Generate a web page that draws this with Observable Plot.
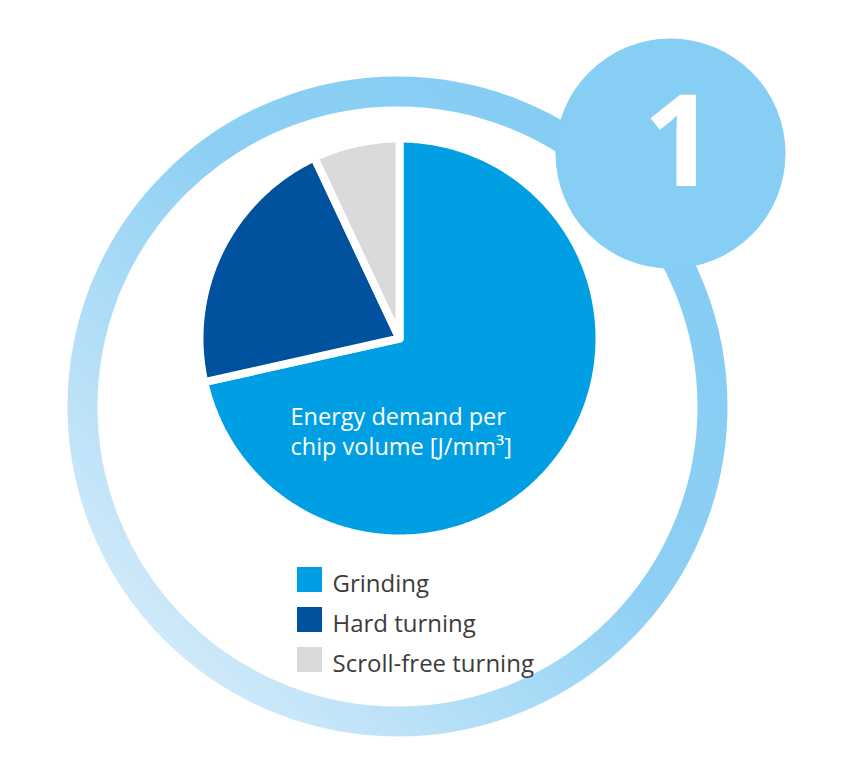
<!DOCTYPE html>
<html><head><meta charset="utf-8">
<script src="https://cdn.jsdelivr.net/npm/d3@7"></script>
<script src="https://cdn.jsdelivr.net/npm/@observablehq/plot@0.6"></script>
<style>html,body{margin:0;padding:0;background:#fff}</style>
</head><body><div id="chart"></div>
<script>
// ---- data ----
const categories = ["Grinding", "Hard turning", "Scroll-free turning"];
const values = [71.5, 21.5, 7];
const colors = ["#009fe3", "#00519e", "#dadada"];
const centerLabel = ["Energy demand per", "chip volume [J/mm³]"];
const badgeLabel = "1";

// ---- layout ----
const W = 854, H = 771;
const pie = {cx: 399, cy: 338, r: 200, gap: 8};
const ring = {cx: 397, cy: 406, r: 315, w: 30};
const badge = {cx: 670, cy: 153, r: 115};
const legend = {x: 297, y: 567, size: 25, step: 40, textX: 332};
const font = "'Open Sans', sans-serif";

const arcs = d3.pie().sort(null).value(d => d.value)(
  categories.map((c, i) => ({category: c, value: values[i]}))
);
const wedgePts = arcs.flatMap(a => {
  const n = Math.max(2, Math.ceil((a.endAngle - a.startAngle) / 0.01));
  const pts = [{category: a.data.category, x: pie.cx, y: pie.cy}];
  for (let k = 0; k <= n; k++) {
    const t = a.startAngle + (a.endAngle - a.startAngle) * k / n;
    pts.push({category: a.data.category, x: pie.cx + pie.r * Math.sin(t), y: pie.cy - pie.r * Math.cos(t)});
  }
  return pts;
});
const legendRows = categories.map((c, i) => ({category: c, i}));

const defs = () => {
  const g = d3.create("svg:g");
  const lg = g.append("defs").append("linearGradient")
    .attr("id", "ringGrad").attr("x1", "1").attr("y1", "0").attr("x2", "0").attr("y2", "1");
  lg.append("stop").attr("offset", "0").attr("stop-color", "#82cbf3");
  lg.append("stop").attr("offset", "0.45").attr("stop-color", "#8ed0f4");
  lg.append("stop").attr("offset", "1").attr("stop-color", "#e3f1fb");
  return g.node();
};

const chart = Plot.plot({
  width: W, height: H,
  margin: 0,
  x: {domain: [0, W], range: [0, W], axis: null},
  y: {domain: [0, H], range: [0, H], axis: null},
  color: {domain: categories, range: colors},
  style: {background: "#fff", fontFamily: font},
  marks: [
    defs,
    Plot.dot([ring], {x: "cx", y: "cy", r: ring.r, fill: "none", stroke: "url(#ringGrad)", strokeWidth: ring.w}),
    Plot.dot([badge], {x: "cx", y: "cy", r: badge.r, fill: "#86cef4", stroke: "none"}),
    Plot.text([badgeLabel], {x: badge.cx + 9, y: badge.cy - 8, text: d => d, fontSize: 128, fontWeight: 700, fill: "#fff", textAnchor: "middle", lineAnchor: "middle", fontFamily: font}),
    Plot.line(wedgePts, {x: "x", y: "y", z: "category", fill: "category", stroke: "#fff", strokeWidth: pie.gap, curve: "linear-closed", strokeLinejoin: "round"}),
    Plot.text([centerLabel.join("\n")], {x: 290, y: 403, text: d => d, fontSize: 23.5, fill: "#fff", textAnchor: "start", lineAnchor: "top", lineHeight: 1.28, fontFamily: font}),
    Plot.rect(legendRows, {
      x1: legend.x, x2: legend.x + legend.size,
      y1: d => legend.y + d.i * legend.step, y2: d => legend.y + d.i * legend.step + legend.size,
      fill: "category"
    }),
    Plot.text(legendRows, {
      x: legend.textX, y: d => legend.y + d.i * legend.step + legend.size / 2 + 4,
      text: "category", fontSize: 24, fill: "#3c3c3b", textAnchor: "start", lineAnchor: "middle", fontFamily: font
    })
  ]
});
document.getElementById("chart").append(chart);
</script>
</body></html>
